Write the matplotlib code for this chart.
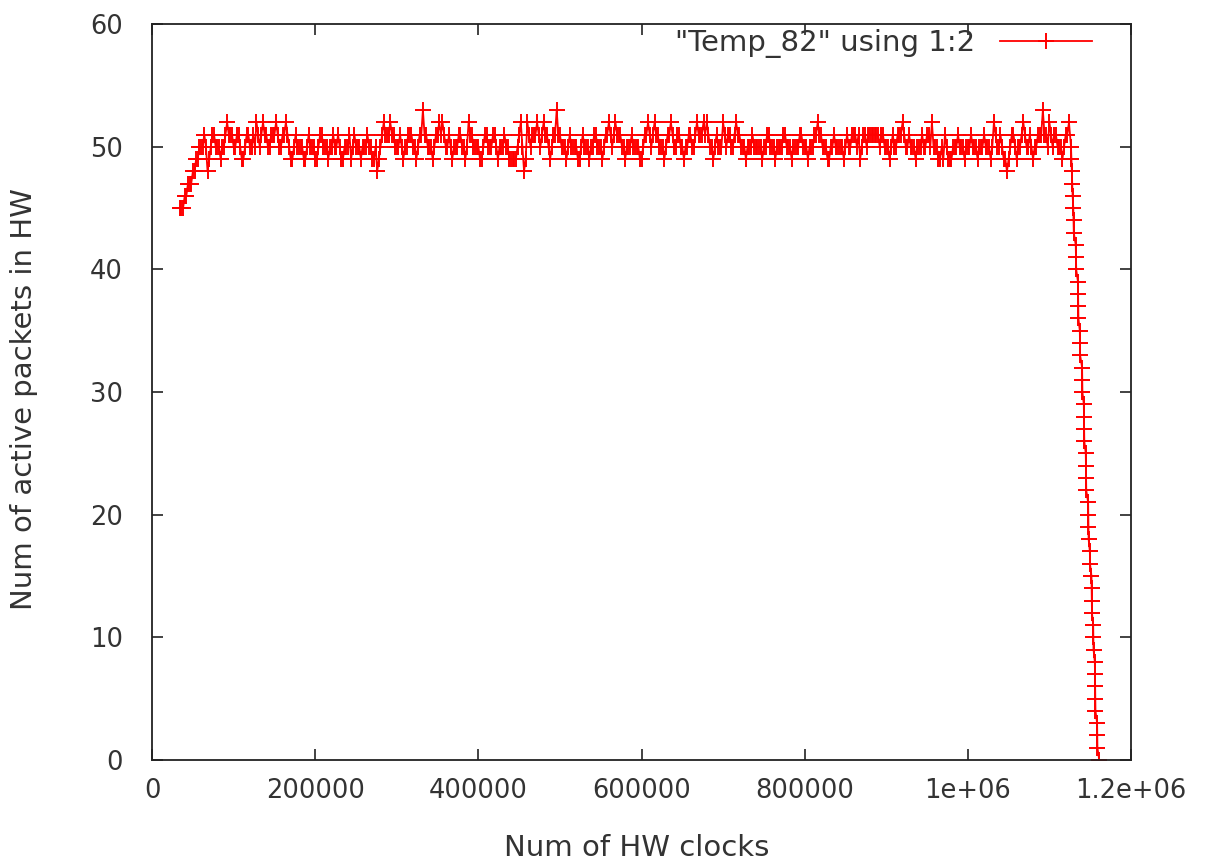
import numpy as np
import matplotlib.pyplot as plt

# ---- data: number of active packets vs. hardware clock ----

# start-up ramp
ramp_clk = [34000, 36000, 38000, 40000, 42000, 44000, 46000, 48000,
            50000, 52000, 54000, 56000, 58000]
ramp_val = [45, 45, 45, 46, 46, 47, 47, 47, 48, 48, 49, 49, 50]

# steady state, sampled every PLATEAU_STEP clocks from PLATEAU_START
PLATEAU_START = 60000
PLATEAU_STEP = 2000
plateau_val = [
    50, 50, 51, 50, 48, 49, 50, 51, 51, 50, 50, 50, 49, 50, 50, 51, 52, 51, 51, 51,
    50, 50, 51, 51, 50, 49, 49, 50, 51, 51, 50, 50, 51, 50, 52, 51, 50, 51, 52, 51,
    51, 50, 50, 51, 51, 51, 52, 51, 50, 50, 51, 51, 52, 51, 50, 49, 49, 50, 51, 50,
    50, 50, 50, 49, 49, 50, 51, 50, 50, 50, 49, 49, 50, 51, 51, 50, 50, 50, 49, 50,
    50, 51, 50, 50, 51, 50, 49, 49, 50, 50, 50, 51, 49, 50, 51, 50, 50, 50, 49, 50,
    50, 50, 51, 50, 50, 49, 49, 50, 48, 49, 50, 51, 52, 51, 51, 51, 52, 51, 51, 50,
    50, 50, 51, 50, 49, 50, 50, 51, 51, 51, 50, 50, 49, 50, 51, 51, 53, 51, 51, 50,
    50, 50, 49, 50, 51, 51, 52, 51, 52, 51, 50, 50, 51, 50, 49, 50, 50, 50, 51, 51,
    50, 50, 49, 50, 52, 51, 51, 50, 50, 50, 50, 49, 49, 50, 51, 51, 50, 50, 50, 51,
    51, 50, 49, 50, 50, 50, 51, 50, 50, 49, 49, 49, 49, 49, 50, 51, 52, 50, 48, 49,
    52, 51, 50, 51, 51, 51, 52, 51, 50, 51, 52, 51, 51, 50, 49, 50, 51, 51, 53, 51,
    51, 50, 50, 50, 49, 50, 51, 50, 50, 50, 50, 49, 49, 50, 51, 50, 50, 50, 49, 50,
    50, 51, 51, 50, 50, 50, 49, 50, 51, 51, 52, 51, 50, 51, 52, 51, 51, 51, 50, 50,
    49, 50, 50, 50, 51, 50, 50, 50, 50, 49, 49, 50, 51, 51, 52, 51, 50, 51, 52, 51,
    51, 50, 50, 50, 49, 50, 51, 51, 52, 51, 50, 50, 51, 51, 50, 50, 49, 50, 50, 51,
    51, 50, 50, 51, 52, 51, 51, 51, 52, 51, 52, 51, 50, 50, 49, 50, 51, 50, 50, 50,
    52, 51, 50, 51, 51, 50, 50, 51, 52, 51, 51, 50, 50, 50, 49, 50, 50, 50, 51, 50,
    50, 50, 50, 50, 49, 50, 50, 51, 51, 50, 50, 50, 49, 50, 50, 50, 50, 51, 51, 50,
    50, 50, 49, 50, 50, 50, 50, 51, 51, 50, 50, 50, 49, 50, 50, 50, 51, 51, 52, 51,
    51, 50, 50, 50, 49, 49, 50, 50, 51, 50, 50, 50, 50, 50, 49, 50, 51, 50, 50, 51,
    51, 51, 50, 51, 49, 50, 51, 51, 50, 51, 51, 51, 51, 51, 51, 51, 50, 51, 51, 50,
    50, 50, 49, 50, 51, 50, 50, 51, 51, 51, 52, 51, 50, 50, 51, 50, 50, 50, 49, 50,
    50, 50, 51, 50, 50, 51, 51, 50, 52, 50, 50, 50, 49, 49, 50, 49, 51, 50, 49, 49,
    49, 50, 50, 50, 51, 50, 50, 50, 49, 50, 50, 50, 51, 50, 50, 50, 49, 50, 50, 50,
    51, 50, 50, 50, 49, 50, 52, 51, 50, 50, 51, 50, 49, 49, 48, 49, 50, 51, 51, 50,
    49, 50, 50, 51, 52, 51, 50, 50, 51, 50, 49, 50, 50, 51, 51, 51, 53, 51, 51, 50,
    52, 51, 50, 51, 51, 50, 50, 50, 49, 50, 51, 51, 52,
]

# drain at the end of the run
drop_clk = [1126500, 1127000, 1127500, 1128000, 1128500,
            1129300, 1129600, 1129900,
            1132300, 1132600, 1132900,
            1135000, 1135200, 1135400, 1135600,
            1137300, 1137500, 1137700,
            1140100, 1140300, 1140500,
            1142200, 1142400, 1142600, 1142800,
            1144600, 1144800, 1145000, 1145200,
            1147500, 1147700, 1147900, 1148100,
            1149600, 1149800,
            1151600, 1151800, 1152000, 1152200,
            1153700, 1153900, 1154100,
            1155700, 1155900, 1156100, 1156300, 1156500,
            1158500, 1158700, 1158900,
            1161100]
drop_val = [50, 49, 48, 47, 46,
            45, 44, 43,
            42, 41, 40,
            39, 38, 37, 36,
            35, 34, 33,
            32, 31, 30,
            29, 28, 27, 26,
            25, 24, 23, 22,
            21, 20, 19, 18,
            17, 16,
            15, 14, 13, 12,
            11, 10, 9,
            8, 7, 6, 5, 4,
            3, 2, 1,
            0]

x_ticks = [0, 200000, 400000, 600000, 800000, 1000000, 1200000]
x_tick_labels = ["0", "200000", "400000", "600000", "800000", "1e+06", "1.2e+06"]
y_ticks = [0, 10, 20, 30, 40, 50, 60]

# ---- assemble the series ----
plateau_clk = PLATEAU_START + PLATEAU_STEP * np.arange(len(plateau_val))
clk = np.concatenate([ramp_clk, plateau_clk, drop_clk])
val = np.concatenate([ramp_val, plateau_val, drop_val])

# ---- plot ----
plt.rcParams["font.family"] = ["DejaVu Sans"]
text_col = "#333333"

fig = plt.figure(figsize=(12.07, 8.63), dpi=100)
ax = fig.add_axes([0.126, 0.1194, 0.811, 0.8526])

ax.plot(clk, val, color="#ff0000", lw=1.3, marker="+", ms=12, mew=1.4,
        label='"Temp_82" using 1:2')

ax.set_xlim(0, 1200000)
ax.set_ylim(0, 60)
ax.set_xticks(x_ticks)
ax.set_xticklabels(x_tick_labels)
ax.set_yticks(y_ticks)

ax.tick_params(direction="in", top=True, right=True, length=8, width=1.2,
               colors="#222222", labelcolor=text_col, labelsize=18.5)
ax.tick_params(axis="y", pad=21)
ax.tick_params(axis="x", pad=13)
for s in ax.spines.values():
    s.set_color("#222222")
    s.set_linewidth(1.3)

ax.set_xlabel("Num of HW clocks", fontsize=21, color=text_col)
ax.set_ylabel("Num of active packets in HW", fontsize=21, color=text_col)
ax.xaxis.set_label_coords(0.495, -0.1)
ax.yaxis.set_label_coords(-0.117, 0.49)

leg = ax.legend(loc="upper right", frameon=False, markerfirst=False,
                handlelength=3.15, handletextpad=0.85, fontsize=21,
                borderpad=0, borderaxespad=0, bbox_to_anchor=(0.960, 0.993))
for t in leg.get_texts():
    t.set_color(text_col)

fig.savefig("out.png", dpi=100)
